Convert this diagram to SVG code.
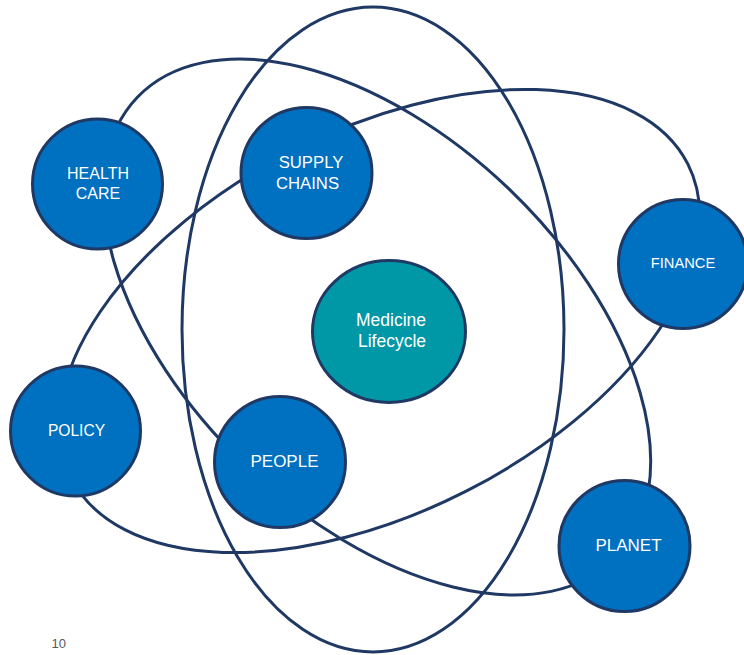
<svg xmlns="http://www.w3.org/2000/svg" width="744" height="655" viewBox="0 0 744 655">
  <style>
    .orbit { fill: none; stroke: #1f3864; stroke-width: 3; }
    .node { fill: #0070c0; stroke: #1f3864; stroke-width: 3; }
    .core { fill: #0097a7; stroke: #1f3864; stroke-width: 3; }
    .label { fill: #ffffff; font-family: "Liberation Sans", Arial, sans-serif; text-anchor: middle; }
    .page { fill: #595959; font-family: "Liberation Sans", Arial, sans-serif; font-size: 13px; }
  </style>
  <rect width="744" height="655" fill="#ffffff"/>

  <!-- three orbit ellipses -->
  <g id="connectors">
    <ellipse class="orbit" cx="373" cy="329.5" rx="191" ry="322.5"/>
    <ellipse class="orbit" cx="0" cy="0" rx="332" ry="191" transform="translate(377 327) rotate(43.8)"/>
    <ellipse class="orbit" cx="0" cy="0" rx="346" ry="191" transform="translate(379.5 321) rotate(-27)"/>
  </g>

  <g id="health-care">
    <circle class="node" cx="97.5" cy="184" r="65"/>
    <text class="label" x="98" y="179" font-size="16">HEALTH</text>
    <text class="label" x="98" y="199" font-size="16">CARE</text>
  </g>

  <g id="supply-chains">
    <circle class="node" cx="306.5" cy="173" r="65.5"/>
    <text class="label" x="311" y="168" font-size="16.7">SUPPLY</text>
    <text class="label" x="307.5" y="189" font-size="16.7">CHAINS</text>
  </g>

  <g id="finance">
    <circle class="node" cx="683" cy="264" r="64.5"/>
    <text class="label" x="683" y="268" font-size="14.7">FINANCE</text>
  </g>

  <g id="medicine-lifecycle">
    <ellipse class="core" cx="389" cy="331.5" rx="76.5" ry="71"/>
    <text class="label" x="391" y="326" font-size="17.5">Medicine</text>
    <text class="label" x="392" y="346.5" font-size="17.5">Lifecycle</text>
  </g>

  <g id="policy">
    <circle class="node" cx="75.5" cy="431" r="65"/>
    <text class="label" x="76.5" y="436" font-size="15.6">POLICY</text>
  </g>

  <g id="people">
    <circle class="node" cx="280" cy="462" r="65.5"/>
    <text class="label" x="284.5" y="466.5" font-size="17">PEOPLE</text>
  </g>

  <g id="planet">
    <circle class="node" cx="624.5" cy="546" r="65.5"/>
    <text class="label" x="628.5" y="550.5" font-size="17">PLANET</text>
  </g>

  <text class="page" x="51.5" y="648">10</text>
</svg>
